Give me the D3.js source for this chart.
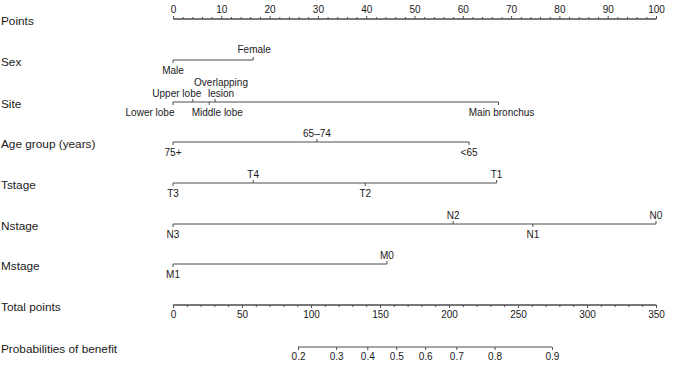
<!DOCTYPE html>
<html>
<head>
<meta charset="utf-8">
<script src="https://cdn.jsdelivr.net/npm/d3@7"></script>
<style>
  html, body { margin: 0; padding: 0; background: #fff; }
  svg { display: block; font-family: "Liberation Sans", Arial, Helvetica, sans-serif; }
</style>
</head>
<body>
<svg id="chart" width="677" height="369"></svg>
<script>
// ---------- data ----------
const pointsTicks = [0, 10, 20, 30, 40, 50, 60, 70, 80, 90, 100];

const sexLevels = ["Male", "Female"];
const sexPoints = [0, 16.6];

const siteLevels = ["Lower lobe", "Upper lobe", "Middle lobe", "Overlapping lesion", "Main bronchus"];
const sitePoints = [0, 4.1, 7.5, 8.7, 67.4];

const ageLevels = ["75+", "65–74", "<65"];
const agePoints = [0, 29.8, 61.3];

const tLevels = ["T3", "T4", "T2", "T1"];
const tPoints = [0, 16.6, 39.8, 67.0];

const nLevels = ["N3", "N2", "N1", "N0"];
const nPoints = [0, 58.0, 74.5, 100];

const mLevels = ["M1", "M0"];
const mPoints = [0, 44.3];

const totalTicks = [0, 50, 100, 150, 200, 250, 300, 350];

const probLabels = ["0.2", "0.3", "0.4", "0.5", "0.6", "0.7", "0.8", "0.9"];
const probTotalPoints = [90.6, 118.2, 140.8, 161.8, 182.7, 205.3, 233.0, 274.6];

const rowNames = ["Points", "Sex", "Site", "Age group (years)", "Tstage", "Nstage", "Mstage", "Total points", "Probabilities of benefit"];

// ---------- layout ----------
const svg = d3.select("#chart");
const lineColor = "#4d4d4d";
const textColor = "#1a1a1a";
const x0 = 173, x1 = 656;
const rowY = [19, 60, 102, 142, 183, 224, 264, 305, 347];

const xPts = d3.scaleLinear().domain([0, 100]).range([x0, x1]);
const xTot = d3.scaleLinear().domain([0, 350]).range([x0, x1]);

// row labels
svg.append("g").selectAll("text").data(rowNames).join("text")
  .attr("x", 1)
  .attr("y", (d, i) => rowY[i] + 2)
  .attr("dominant-baseline", "central")
  .attr("font-size", 11.8)
  .attr("fill", textColor)
  .text(d => d);

// Points axis (labels above, ticks up)
const gP = svg.append("g").attr("transform", `translate(0,${rowY[0]})`);
gP.call(d3.axisTop(xPts).tickValues(pointsTicks).tickSize(3).tickPadding(3).tickFormat(d3.format("d")));
gP.append("g").call(d3.axisTop(xPts).tickValues(d3.range(0, 101, 2).filter(v => v % 10)).tickSize(2).tickFormat(""));

// Total points axis (labels below, ticks down)
const gT = svg.append("g").attr("transform", `translate(0,${rowY[7]})`);
gT.call(d3.axisBottom(xTot).tickValues(totalTicks).tickSize(3).tickPadding(3).tickFormat(d3.format("d")));
gT.append("g").call(d3.axisBottom(xTot).tickValues(d3.range(0, 351, 10).filter(v => v % 50)).tickSize(2).tickFormat(""));

// Probability axis
const gR = svg.append("g").attr("transform", `translate(0,${rowY[8]})`);
gR.call(d3.axisBottom(xTot).tickValues(probTotalPoints).tickSize(3).tickPadding(3)
  .tickFormat((d, i) => probLabels[i]));

[gP, gT, gR].forEach(g => {
  g.selectAll(".domain").attr("stroke", lineColor).attr("d", function () {
    return d3.select(this).attr("d").replace(/V[-\d.]+/g, "").replace(/^M([\d.]+),[-\d.]+/, "M$1,0");
  });
  g.selectAll("line").attr("stroke", lineColor);
  g.selectAll("text").attr("font-size", 10).attr("fill", textColor).attr("font-family", null);
});
// plain domain lines (no end caps)
[gP, gT, gR].forEach((g, k) => {
  g.select(".domain").remove();
});
gP.append("line").attr("x1", xPts(0)).attr("x2", xPts(100)).attr("stroke", lineColor);
gT.append("line").attr("x1", xTot(0)).attr("x2", xTot(350)).attr("stroke", lineColor);
gR.append("line").attr("x1", xTot(probTotalPoints[0])).attr("x2", xTot(probTotalPoints[probTotalPoints.length - 1])).attr("stroke", lineColor);

// variable rows
const labelNudge = {
  "Lower lobe": { dx: -23, dy: 0 },
  "Upper lobe": { dx: -16, dy: 0 },
  "Middle lobe": { dx: 8, dy: 0 },
  "Overlapping lesion": { dx: 6, dy: 0 },
  "Main bronchus": { dx: 3, dy: 0 },
  "Female": { dx: 1, dy: -2 }
};

const vars = [
  { levels: sexLevels, pts: sexPoints, row: 1 },
  { levels: siteLevels, pts: sitePoints, row: 2 },
  { levels: ageLevels, pts: agePoints, row: 3 },
  { levels: tLevels, pts: tPoints, row: 4 },
  { levels: nLevels, pts: nPoints, row: 5 },
  { levels: mLevels, pts: mPoints, row: 6 }
];

vars.forEach(v => {
  const y = rowY[v.row];
  const g = svg.append("g").attr("transform", `translate(0,${y})`);
  g.append("line")
    .attr("x1", xPts(d3.min(v.pts))).attr("x2", xPts(d3.max(v.pts)))
    .attr("stroke", lineColor);
  const items = v.levels.map((l, i) => ({ label: l, p: v.pts[i] }))
    .sort((a, b) => a.p - b.p);
  items.forEach((d, i) => {
    const above = i % 2 === 1;
    const dir = above ? -1 : 1;
    g.append("line")
      .attr("x1", xPts(d.p)).attr("x2", xPts(d.p))
      .attr("y1", 0).attr("y2", dir * 3)
      .attr("stroke", lineColor);
    const nudge = labelNudge[d.label] || { dx: 0, dy: 0 };
    const lines = d.label === "Overlapping lesion" ? ["Overlapping", "lesion"] : [d.label];
    lines.forEach((t, k) => {
      const off = above ? -9 - (lines.length - 1 - k) * 11 : 10;
      g.append("text")
        .attr("x", xPts(d.p) + nudge.dx)
        .attr("y", off + nudge.dy)
        .attr("text-anchor", "middle")
        .attr("dominant-baseline", "central")
        .attr("font-size", 10)
        .attr("fill", textColor)
        .text(t);
    });
  });
});
</script>
</body>
</html>
